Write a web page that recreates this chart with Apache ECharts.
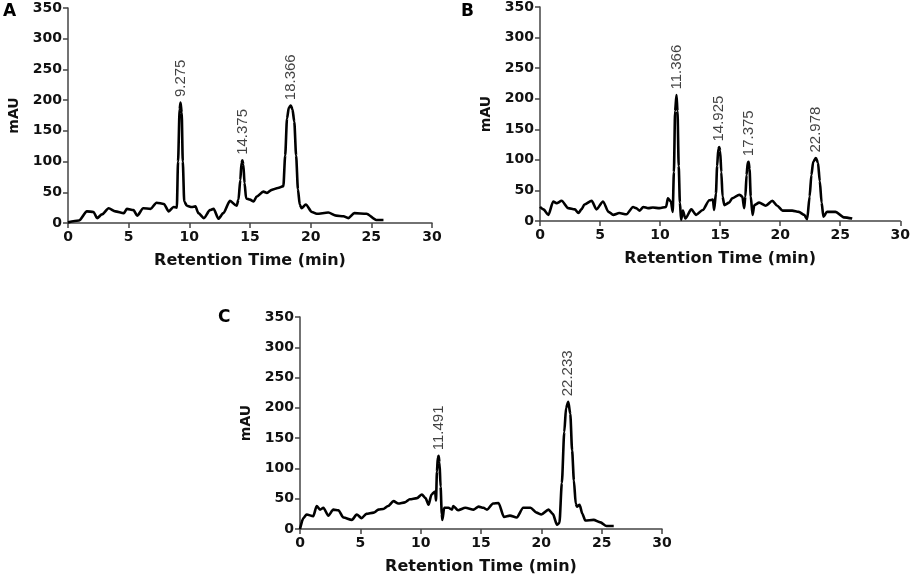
<!DOCTYPE html>
<html>
<head>
<meta charset="utf-8">
<script src="https://cdn.jsdelivr.net/npm/echarts@6/dist/echarts.min.js"></script>
<style>
  html, body { margin: 0; padding: 0; background: #fff; }
  #chart { width: 913px; height: 583px; }
</style>
</head>
<body>
<div id="chart"></div>
<script>
// chromatogram traces, [time (min), mAU]
var traceA = [
  [0, 1], [0.9, 4], [1.56, 19], [2.1, 18], [2.4, 8], [2.8, 14], [3.35, 24], [3.9, 19],
  [4.6, 16], [4.85, 23], [5.4, 21], [5.7, 12], [6.2, 24], [6.8, 23], [7.3, 33], [7.9, 31],
  [8.3, 19], [8.7, 26], [8.97, 25], [9.07, 100], [9.2, 185], [9.275, 196], [9.37, 180],
  [9.46, 100], [9.58, 35], [9.8, 28], [10.2, 26], [10.5, 27], [10.75, 16], [11.2, 8],
  [11.7, 21], [12.0, 23], [12.4, 7], [12.8, 16], [13.35, 36], [13.9, 28], [14.05, 38],
  [14.2, 70], [14.3, 98], [14.375, 102], [14.45, 95], [14.55, 65], [14.68, 40], [15.0, 38],
  [15.3, 35], [15.55, 43], [16.1, 51], [16.4, 49], [16.8, 54], [17.3, 57], [17.75, 60],
  [17.9, 110], [18.05, 170], [18.2, 188], [18.366, 191], [18.5, 185], [18.65, 165],
  [18.8, 110], [18.95, 55], [19.1, 30], [19.25, 24], [19.6, 30], [20.1, 18], [20.5, 15],
  [21.45, 17], [22.1, 12], [22.7, 11], [23.1, 8], [23.6, 16], [24.6, 15], [25.4, 5], [26.0, 5]
];
var traceB = [
  [0, 23], [0.28, 19], [0.7, 10], [1.1, 32], [1.38, 29], [1.8, 33], [2.35, 21], [2.9, 19],
  [3.2, 13], [3.45, 19], [3.7, 27], [4.3, 33], [4.7, 19], [5.25, 32], [5.7, 15], [6.1, 10],
  [6.6, 13], [7.2, 11], [7.75, 23], [8.0, 21], [8.3, 17], [8.6, 23], [9.0, 21], [9.4, 22],
  [9.95, 21], [10.5, 23], [10.65, 37], [10.9, 32], [11.05, 15], [11.15, 80], [11.25, 180],
  [11.366, 206], [11.45, 180], [11.55, 90], [11.65, 30], [11.75, 2], [11.9, 17], [12.1, 4],
  [12.6, 19], [13.0, 10], [13.55, 18], [14.1, 34], [14.4, 35], [14.5, 18], [14.65, 45],
  [14.75, 90], [14.85, 118], [14.925, 121], [15.0, 115], [15.1, 80], [15.2, 40], [15.35, 26],
  [15.75, 30], [16.0, 37], [16.6, 43], [16.85, 40], [17.0, 21], [17.1, 40], [17.2, 75],
  [17.3, 96], [17.375, 97], [17.45, 85], [17.55, 40], [17.7, 10], [17.85, 26], [18.25, 30],
  [18.8, 25], [19.35, 33], [19.75, 25], [20.2, 17], [21.0, 17], [21.55, 15], [22.0, 10],
  [22.25, 3], [22.45, 40], [22.6, 75], [22.75, 97], [22.978, 103], [23.15, 95], [23.3, 65],
  [23.45, 30], [23.6, 7], [23.9, 15], [24.6, 15], [25.3, 6], [26.0, 4]
];
var traceC = [
  [0, 0], [0.28, 18], [0.55, 24], [1.1, 21], [1.38, 38], [1.66, 32], [1.94, 35], [2.35, 22],
  [2.76, 32], [3.18, 31], [3.6, 19], [4.3, 15], [4.7, 24], [5.1, 18], [5.5, 25], [6.1, 27],
  [6.5, 32], [6.9, 33], [7.3, 38], [7.75, 46], [8.15, 42], [8.7, 44], [9.1, 49], [9.7, 51],
  [10.1, 57], [10.4, 51], [10.65, 40], [10.9, 57], [11.2, 62], [11.27, 47], [11.35, 95],
  [11.42, 118], [11.491, 121], [11.56, 110], [11.65, 70], [11.75, 25], [11.8, 15], [11.95, 35],
  [12.3, 35], [12.6, 32], [12.7, 38], [13.1, 31], [13.7, 35], [14.4, 32], [14.8, 37],
  [15.2, 35], [15.5, 32], [16.0, 42], [16.45, 43], [16.9, 20], [17.4, 22], [17.96, 19],
  [18.5, 35], [19.1, 35], [19.6, 27], [20.0, 24], [20.6, 32], [20.95, 25], [21.3, 7],
  [21.5, 10], [21.7, 76], [21.9, 160], [22.05, 200], [22.233, 210], [22.4, 190], [22.55, 130],
  [22.7, 80], [22.85, 42], [22.95, 37], [23.17, 40], [23.4, 25], [23.64, 14], [24.33, 15],
  [24.9, 11], [25.4, 5], [26.0, 5]
];

// retention times printed over the peaks
var peaksA = ['9.275', '14.375', '18.366'];
var peaksB = ['11.366', '14.925', '17.375', '22.978'];
var peaksC = ['11.491', '22.233'];

var xTicks = [0, 5, 10, 15, 20, 25, 30];
var yTicks = [0, 50, 100, 150, 200, 250, 300, 350];

var chart = echarts.init(document.getElementById('chart'));

var tickFont = { fontFamily: 'DejaVu Sans', fontWeight: 'bold', fontSize: 14, color: '#111' };

function peakPoints(trace, peaks) {
    return peaks.map(function (p) {
        var t = parseFloat(p);
        var pt = trace.filter(function (d) { return d[0] === t; })[0];
        return { value: pt, name: p };
    });
}

function xAxis(i) {
    return {
        gridIndex: i, type: 'value',
        min: xTicks[0], max: xTicks[xTicks.length - 1], interval: 5,
        name: 'Retention Time (min)', nameLocation: 'middle', nameGap: 30,
        nameTextStyle: { fontFamily: 'DejaVu Sans', fontWeight: 'bold', fontSize: 16, color: '#111' },
        axisLine: { lineStyle: { color: '#444', width: 1.5 } },
        axisTick: { length: 5, lineStyle: { color: '#444', width: 1.5 } },
        axisLabel: Object.assign({ margin: 7 }, tickFont),
        splitLine: { show: false }
    };
}

function yAxis(i) {
    return {
        gridIndex: i, type: 'value',
        min: yTicks[0], max: yTicks[yTicks.length - 1], interval: 50,
        name: 'mAU', nameLocation: 'middle', nameGap: 47,
        nameTextStyle: { fontFamily: 'DejaVu Sans', fontWeight: 'bold', fontSize: 14, color: '#111' },
        axisLine: { show: true, lineStyle: { color: '#444', width: 1.5 } },
        axisTick: { show: true, length: 5, lineStyle: { color: '#444', width: 1.5 } },
        axisLabel: Object.assign({ margin: 6 }, tickFont),
        splitLine: { show: false }
    };
}

function trace(i, data) {
    return {
        type: 'line', xAxisIndex: i, yAxisIndex: i, data: data,
        showSymbol: false, smooth: 0.25, smoothMonotone: 'x',
        lineStyle: { color: '#000', width: 2.6 }, silent: true
    };
}

function labels(i, data) {
    return {
        type: 'scatter', xAxisIndex: i, yAxisIndex: i, data: data,
        symbolSize: 1, itemStyle: { color: 'transparent' }, silent: true,
        label: {
            show: true, formatter: '{b}', position: 'top', distance: 5,
            rotate: 90, align: 'left', verticalAlign: 'middle',
            fontFamily: 'Liberation Sans', fontSize: 15, color: '#111'
        }
    };
}

function letter(txt, x, y) {
    return {
        type: 'text', left: x, top: y,
        style: { text: txt, fontFamily: 'DejaVu Sans', fontWeight: 'bold', fontSize: 17, fill: '#000' }
    };
}

chart.setOption({
    backgroundColor: '#fff',
    animation: false,
    grid: [
        { left: 68, top: 8, width: 364, height: 215 },
        { left: 540, top: 7, width: 361, height: 214 },
        { left: 300, top: 317, width: 362, height: 212 }
    ],
    xAxis: [xAxis(0), xAxis(1), xAxis(2)],
    yAxis: [yAxis(0), yAxis(1), yAxis(2)],
    series: [
        trace(0, traceA), trace(1, traceB), trace(2, traceC),
        labels(0, peakPoints(traceA, peaksA)),
        labels(1, peakPoints(traceB, peaksB)),
        labels(2, peakPoints(traceC, peaksC))
    ],
    graphic: [
        letter('A', 3, 3),
        letter('B', 461, 3),
        letter('C', 218, 309)
    ]
});
</script>
</body>
</html>
